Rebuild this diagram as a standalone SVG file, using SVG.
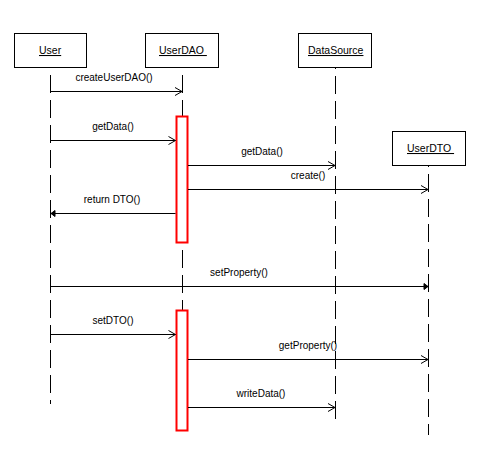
<svg xmlns="http://www.w3.org/2000/svg" width="480" height="459" viewBox="0 0 480 459">
<defs>
<style>
.box{fill:#fff;stroke:#000;stroke-width:1}
.name{font-family:"Liberation Sans",Arial,sans-serif;font-size:10.5px;fill:#000;text-decoration:underline}
.lbl{font-family:"Liberation Sans",Arial,sans-serif;font-size:10px;fill:#000;text-anchor:middle}
.life{stroke:#000;stroke-width:1;stroke-dasharray:18 7;fill:none}
.act{fill:#fff;stroke:#ff0000;stroke-width:2}
.msg{stroke:#000;stroke-width:1;fill:none;marker-end:url(#open)}
.ret{stroke:#000;stroke-width:1;fill:none;marker-end:url(#solid)}
</style>
<marker id="open" markerUnits="userSpaceOnUse" markerWidth="12" markerHeight="12" refX="0" refY="0" viewBox="-8 -6 10 12" orient="auto" overflow="visible">
<path d="M-7,-4 L0,0 L-7,4" fill="none" stroke="#000" stroke-width="1"/>
</marker>
<marker id="solid" markerUnits="userSpaceOnUse" markerWidth="8" markerHeight="8" refX="0" refY="0" viewBox="-5 -4 6 8" orient="auto" overflow="visible">
<path d="M-4,-3 L0,0 L-4,3 Z" fill="#000" stroke="#000" stroke-width="1"/>
</marker>
</defs>

<g id="lifelines">
<line class="life" x1="50.5" y1="67" x2="50.5" y2="404" stroke-dashoffset="17"/>
<line class="life" x1="182.5" y1="67" x2="182.5" y2="430" stroke-dashoffset="17"/>
<line class="life" x1="335.5" y1="68" x2="335.5" y2="420" stroke-dashoffset="17"/>
<line class="life" x1="428.5" y1="166" x2="428.5" y2="435" stroke-dashoffset="17"/>
</g>

<g id="node-user">
<rect class="box" x="14.5" y="33.5" width="72" height="34"/>
<text class="name" x="39" y="54">User</text>
</g>
<g id="node-userdao">
<rect class="box" x="145.5" y="33.5" width="73" height="34"/>
<text class="name" x="159" y="54">UserDAO&#160;</text>
</g>
<g id="node-datasource">
<rect class="box" x="298.5" y="33.5" width="73" height="34"/>
<text class="name" x="308" y="54">DataSource</text>
</g>
<g id="node-userdto">
<rect class="box" x="392.5" y="131.5" width="73" height="34"/>
<text class="name" x="407" y="152">UserDTO&#160;</text>
</g>

<g id="activations">
<rect class="act" x="176.5" y="116.5" width="11" height="126"/>
<rect class="act" x="176.5" y="310.5" width="11" height="120"/>
</g>

<g id="connectors">
<line class="msg" x1="50.5" y1="91.5" x2="182" y2="91.5"/>
<text class="lbl" x="114" y="81">createUserDAO()</text>

<line class="msg" x1="50.5" y1="140.5" x2="175.5" y2="140.5"/>
<text class="lbl" x="113" y="130">getData()</text>

<line class="msg" x1="188" y1="165.5" x2="335" y2="165.5"/>
<text class="lbl" x="262" y="155">getData()</text>

<line class="msg" x1="188" y1="189.5" x2="428" y2="189.5"/>
<text class="lbl" x="308" y="179">create()</text>

<line class="ret" x1="175.5" y1="213.5" x2="51" y2="213.5"/>
<text class="lbl" x="112" y="203">return DTO()</text>

<line class="ret" x1="50.5" y1="286.5" x2="428" y2="286.5"/>
<text class="lbl" x="239" y="276">setProperty()</text>

<line class="msg" x1="50.5" y1="334.5" x2="175.5" y2="334.5"/>
<text class="lbl" x="113" y="324">setDTO()</text>

<line class="msg" x1="188" y1="359.5" x2="428" y2="359.5"/>
<text class="lbl" x="308" y="349">getProperty()</text>

<line class="msg" x1="188" y1="407.5" x2="335" y2="407.5"/>
<text class="lbl" x="261" y="397">writeData()</text>
</g>
</svg>
